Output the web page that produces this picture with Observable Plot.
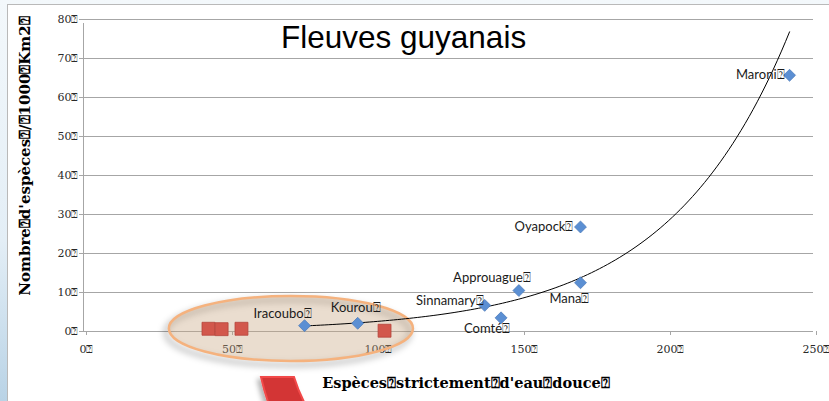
<!DOCTYPE html>
<html><head><meta charset="utf-8">
<script src="https://cdn.jsdelivr.net/npm/d3@7"></script>
<script src="https://cdn.jsdelivr.net/npm/@observablehq/plot@0.6"></script>
<style>
html,body{margin:0;padding:0;width:829px;height:401px;overflow:hidden;}
body{background:linear-gradient(180deg,#f3f8fb 0%,#e3eef6 60%,#b9d3e6 100%);position:relative;}
#panel{position:absolute;left:7px;top:4px;width:822px;height:397px;background:#fff;border-left:1px solid #b9b9b9;border-top:1px solid #b9b9b9;}
#chart{position:absolute;left:0;top:0;}
</style></head>
<body><div id="panel"></div><div id="chart"></div>
<script>
// ---- data ----
const rivers = ["Iracoubo", "Kourou", "Sinnamary", "Comté", "Approuague", "Mana", "Oyapock", "Maroni"];
const riverSpecies = [75.7, 93.9, 137.4, 143.0, 149.1, 170.2, 170.2, 241.8];
const riverDensity = [1.5, 2.1, 6.7, 3.5, 10.5, 12.5, 26.8, 65.7];
const otherSpecies = [42.8, 47.3, 54.1, 103.1];
const otherDensity = [0.7, 0.6, 0.7, 0.2];
const xTicks = [0, 50, 100, 150, 200, 250];
const yTicks = [0, 10, 20, 30, 40, 50, 60, 70, 80];
const BOX = "⍰";
const titleText = "Fleuves guyanais";
const xTitle = "Espèces⍰strictement⍰d'eau⍰douce⍰";
const yTitle = "Nombre⍰d'espèces⍰/⍰1000⍰Km2⍰";

// ---- layout (label offsets in px, highlight ellipse in data units) ----
const labelOffsets = [[7,-12],[23,-15],[-1,-5],[9,11],[12,-13],[9,16],[-7,0],[-5,0]];
const highlight = {cx: 71.2, cy: 0.64, rx: 41.8, ry: 8.33};

// exponential trend (least squares on ln y), computed from the blue series
const lx = d3.mean(riverSpecies);
const ly = d3.mean(riverDensity, v => Math.log(v));
const slope = d3.sum(riverSpecies, (x, i) => (x - lx) * (Math.log(riverDensity[i]) - ly)) /
              d3.sum(riverSpecies, x => (x - lx) ** 2);
const amp = Math.exp(ly - slope * lx);
const [tx0, tx1] = d3.extent(riverSpecies);
const trend = d3.range(0, 121).map(k => {
  const x = tx0 + (tx1 - tx0) * k / 120;
  return {x, y: amp * Math.exp(slope * x)};
});

const rv = rivers.map((name, i) => ({name, x: riverSpecies[i], y: riverDensity[i]}));
const ot = otherSpecies.map((x, i) => ({x, y: otherDensity[i]}));

const grid = "#a6a6a6";
const plot = Plot.plot({
  width: 829, height: 401,
  marginLeft: 83, marginRight: 16, marginTop: 19, marginBottom: 70,
  x: {domain: [0, 250]},
  y: {domain: [0, 80]},
  style: {background: "transparent", fontFamily: "DejaVu Serif", fontSize: "11px"},
  marks: [
    Plot.gridY(yTicks, {stroke: grid, strokeOpacity: 1}),
    Plot.ruleX([0], {y1: 0, y2: 80, stroke: grid, insetBottom: -4}),
    Plot.axisY(yTicks, {tickSize: 4, tickPadding: 1, tickFormat: d => d + BOX, stroke: grid, fill: "#2a2a2a", label: null}),
    Plot.axisX(xTicks, {tickSize: 4, tickPadding: 10, dx: 3, tickFormat: d => d + BOX, stroke: grid, fill: "#2a2a2a", label: null}),
    Plot.line(trend, {x: "x", y: "y", stroke: "#000", strokeWidth: 1}),
    Plot.dot(ot, {x: "x", y: "y", symbol: "square", r: 7.3, fill: "#d2574c", stroke: "#b5443b", strokeWidth: 0.8}),
    Plot.dot(rv, {x: "x", y: "y", symbol: "diamond2", r: 5.4, fill: "#5b8fd3", stroke: "#4a78b8", strokeWidth: 0.7}),
    ...rv.map((d, i) => Plot.text([d], {
      x: "x", y: "y", text: d => d.name + BOX, textAnchor: "end",
      dx: labelOffsets[i][0], dy: labelOffsets[i][1],
      fontFamily: "Lato", fontSize: 13, fill: "#1a1a1a"
    }))
  ]
});
document.getElementById("chart").appendChild(plot);

// highlight ellipse drawn through the plot's scales
const sx = plot.scale("x"), sy = plot.scale("y");
const svg = d3.select(plot);
const defs = svg.append("defs");
const f = defs.append("filter").attr("id", "shadow").attr("x", "-20%").attr("y", "-40%").attr("width", "140%").attr("height", "180%");
f.append("feGaussianBlur").attr("stdDeviation", 3);
const f2 = defs.append("filter").attr("id", "shadow2").attr("x", "-30%").attr("y", "-30%").attr("width", "160%").attr("height", "160%");
f2.append("feDropShadow").attr("dx", -3).attr("dy", 3).attr("stdDeviation", 2.5).attr("flood-color", "#000").attr("flood-opacity", 0.3);
const lineG = plot.querySelector('g[aria-label="line"]');
const ecx = sx.apply(highlight.cx), ecy = sy.apply(highlight.cy);
const erx = sx.apply(highlight.cx + highlight.rx) - ecx;
const ery = ecy - sy.apply(highlight.cy + highlight.ry);
const NS = "http://www.w3.org/2000/svg";
const shadowEll = document.createElementNS(NS, "ellipse");
shadowEll.setAttribute("cx", ecx - 3);
shadowEll.setAttribute("cy", ecy + 4);
shadowEll.setAttribute("rx", erx);
shadowEll.setAttribute("ry", ery);
shadowEll.setAttribute("fill", "none");
shadowEll.setAttribute("stroke", "rgba(0,0,0,0.22)");
shadowEll.setAttribute("stroke-width", 5);
shadowEll.setAttribute("filter", "url(#shadow)");
const ell = document.createElementNS(NS, "ellipse");
ell.setAttribute("cx", ecx);
ell.setAttribute("cy", ecy);
ell.setAttribute("rx", erx);
ell.setAttribute("ry", ery);
ell.setAttribute("fill", "rgba(200,165,130,0.38)");
ell.setAttribute("stroke", "#f5b27e");
ell.setAttribute("stroke-width", 2.5);
lineG.parentNode.insertBefore(shadowEll, lineG);
lineG.parentNode.insertBefore(ell, lineG);

// titles
svg.append("text").attr("x", 281).attr("y", 48).attr("text-anchor", "start").text(titleText)
  .attr("font-family", "Liberation Sans, Arial, sans-serif").attr("font-size", 31.5).attr("fill", "#000");
svg.append("text").attr("x", 466).attr("y", 383).attr("dy", "0.35em").attr("text-anchor", "middle")
  .attr("font-family", "DejaVu Serif").attr("font-weight", "bold").attr("font-size", 14.5).attr("fill", "#000").text(xTitle);
svg.append("text").attr("transform", "translate(25,156) rotate(-90)").attr("dy", "0.35em").attr("text-anchor", "middle")
  .attr("font-family", "DejaVu Serif").attr("font-weight", "bold").attr("font-size", 15).attr("fill", "#000").text(yTitle);

// decorative red arrow fragment from the slide
svg.append("path").attr("d", "M261,377 L294,377 Q298,390 304,402 L268,402 Q264,390 261,377 Z")
  .attr("fill", "#d33636").attr("stroke", "#f24848").attr("stroke-width", 2).attr("filter", "url(#shadow2)");
</script>
</body></html>
